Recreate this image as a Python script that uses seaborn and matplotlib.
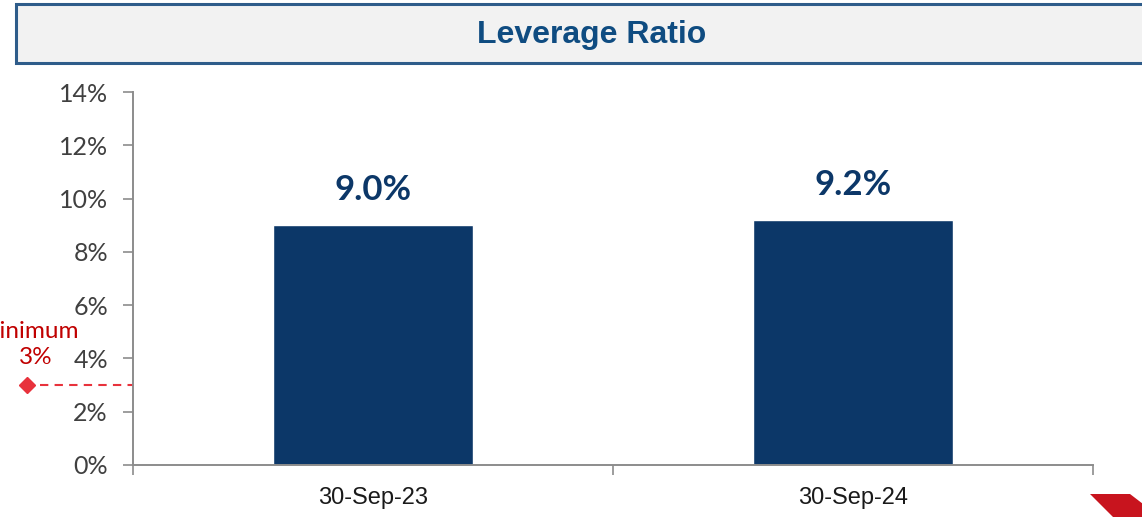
import matplotlib
matplotlib.use("Agg")
import matplotlib.pyplot as plt
from matplotlib.patches import Rectangle, Polygon
from matplotlib.lines import Line2D
import seaborn as sns
import pandas as pd

# Data
periods = ["30-Sep-23", "30-Sep-24"]
leverage_pct = [9.0, 9.2]
value_labels = ["9.0%", "9.2%"]
y_ticks = [0, 2, 4, 6, 8, 10, 12, 14]
minimum_pct = 3.0
chart_title = "Leverage Ratio"

sns.set_theme(style="white")
plt.rcParams["font.family"] = ["Liberation Sans", "DejaVu Sans"]

W, H = 1142, 517
fig = plt.figure(figsize=(W / 100, H / 100), dpi=100)
fig.patch.set_facecolor("white")

def fx(px):
    return px / W

def fy(py):
    return 1 - py / H

ax = fig.add_axes([fx(133), fy(465), fx(1093) - fx(133), fy(92) - fy(465)])

df = pd.DataFrame({"period": periods, "value": leverage_pct})
sns.barplot(data=df, x="period", y="value", color="#0C3768", width=0.417,
            saturation=1, ax=ax)

ax.set_xlim(-0.5, 1.5)
ax.set_ylim(0, 14)
ax.set_yticks(y_ticks)
ax.set_yticklabels([f"{t}%" for t in y_ticks], fontfamily="Lato",
                   fontsize=18, color="#404040")
ax.set_xticks(range(len(periods)))
ax.set_xticklabels(periods, fontsize=17, color="#1a1a1a")
ax.tick_params(axis="x", length=0, pad=16)
ax.tick_params(axis="y", length=7, width=1.2, color="#8c8c8c", direction="out",
               left=True, pad=11)
ax.set_xticks([-0.5, 0.5, 1.5], minor=True)
ax.tick_params(axis="x", which="minor", length=7, width=1.2, color="#8c8c8c",
               bottom=True, direction="out")
ax.set_xlabel("")
ax.set_ylabel("")
for side in ["top", "right"]:
    ax.spines[side].set_visible(False)
for side in ["left", "bottom"]:
    ax.spines[side].set_color("#8c8c8c")
    ax.spines[side].set_linewidth(1.4)

for i, (v, lab) in enumerate(zip(leverage_pct, value_labels)):
    ax.text(i, v + 0.72, lab, ha="center", va="bottom", fontfamily="Lato",
            fontweight="bold", fontsize=25, color="#0C3768")

# Regulatory minimum marker, drawn left of the axis
trans = ax.get_yaxis_transform()
x_line0 = (40 - 133) / (1093 - 133)
x_diam = (27 - 133) / (1093 - 133)
ax.add_line(Line2D([x_line0, 0], [minimum_pct, minimum_pct], transform=trans,
                   color="#E8323C", linestyle=(0, (4, 3)), linewidth=1.5,
                   clip_on=False))
ax.plot([x_diam], [minimum_pct], marker="D", markersize=8, color="#E8323C",
        transform=trans, clip_on=False)
fig.text(fx(79), fy(331), "Minimum", ha="right", va="center",
         fontfamily="Lato", fontsize=17.5, color="#C00000")
fig.text(fx(36), fy(358), f"{minimum_pct:.0f}%", ha="center", va="center",
         fontfamily="Lato", fontsize=17.5, color="#C00000")

# Title banner
fig.patches.append(Rectangle((fx(16), fy(63)), fx(1160) - fx(16), fy(4) - fy(63),
                             transform=fig.transFigure, facecolor="#F2F2F2",
                             edgecolor="#2E5C8A", linewidth=2.2, zorder=0))
fig.text(fx(592), fy(35), chart_title, ha="center", va="center",
         fontfamily=["Liberation Sans Narrow", "Liberation Sans"],
         fontweight="bold", fontsize=23, color="#0F4C81")

# Corner accent
fig.patches.append(Polygon([(fx(1090), fy(494)), (fx(1130), fy(494)),
                            (fx(1160), fy(517)), (fx(1113), fy(517))],
                           closed=True, transform=fig.transFigure,
                           facecolor="#C8141E", edgecolor="none"))

fig.savefig("out.png", dpi=100)
